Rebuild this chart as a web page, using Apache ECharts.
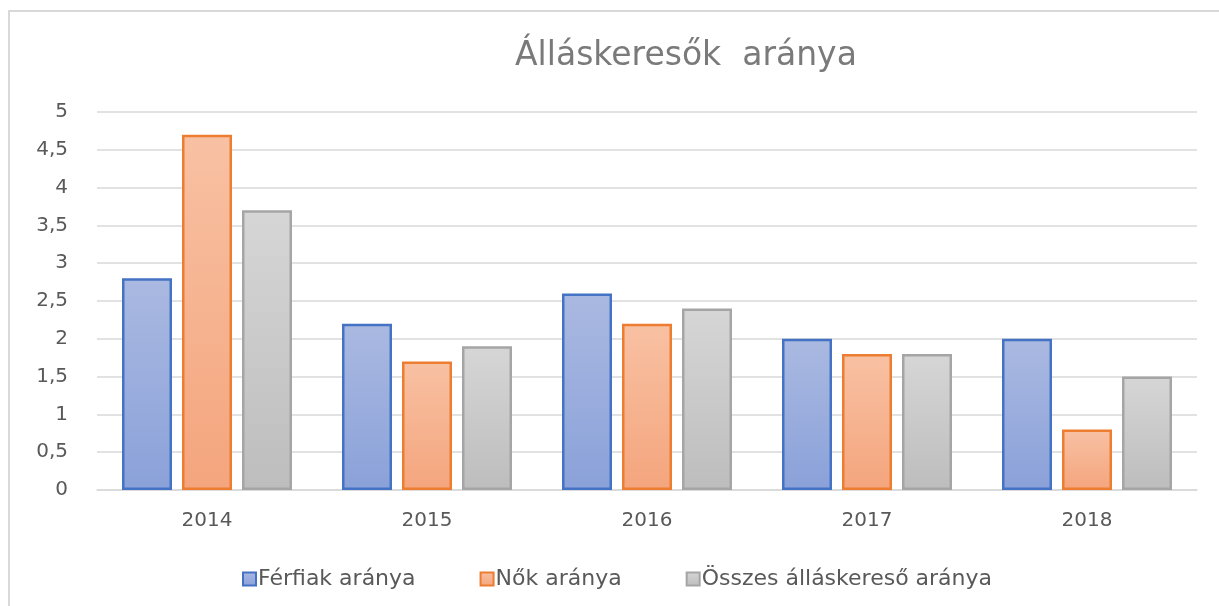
<!DOCTYPE html>
<html>
<head>
<meta charset="utf-8">
<script src="https://cdn.jsdelivr.net/npm/echarts@6/dist/echarts.min.js"></script>
<style>
  html, body { margin: 0; padding: 0; background: #fff; }
  #frame { position: absolute; left: 8px; top: 10px; width: 1220px; height: 606px; border: 2px solid #d9d9d9; box-sizing: border-box; }
  #main { position: absolute; left: 0; top: 0; width: 1219px; height: 606px; }
</style>
</head>
<body>
<div id="frame"></div>
<div id="main"></div>
<script>
var years = ['2014', '2015', '2016', '2017', '2018'];
var ferfiak = [2.8, 2.2, 2.6, 2.0, 2.0];
var nok = [4.7, 1.7, 2.2, 1.8, 0.8];
var osszes = [3.7, 1.9, 2.4, 1.8, 1.5];
var seriesNames = ['Férfiak aránya', 'Nők aránya', 'Összes álláskereső aránya'];

var myChart = echarts.init(document.getElementById('main'));

function grad(top, bottom) {
    return new echarts.graphic.LinearGradient(0, 0, 0, 1, [
        { offset: 0, color: top },
        { offset: 1, color: bottom }
    ]);
}

function bar(name, data, top, bottom, border) {
    return {
        name: name,
        type: 'bar',
        data: data,
        barWidth: 50,
        barGap: '20%',
        itemStyle: {
            color: grad(top, bottom),
            borderColor: border,
            borderWidth: 2.5
        }
    };
}

var option = {
    animation: false,
    textStyle: { fontFamily: 'DejaVu Sans' },
    title: {
        text: 'Álláskeresők  aránya',
        left: 510,
        top: 35,
        textStyle: { fontSize: 33, fontWeight: 'normal', color: '#7a7a7a', fontFamily: 'DejaVu Sans' }
    },
    legend: {
        data: seriesNames,
        icon: 'rect',
        left: 237,
        top: 563,
        itemWidth: 13,
        itemHeight: 13,
        itemGap: 64,
        textStyle: { fontSize: 22, color: '#595959', padding: [0, 0, 0, -3] }
    },
    grid: { left: 97, right: 22, top: 112, bottom: 116 },
    xAxis: {
        type: 'category',
        data: years,
        axisTick: { show: false },
        axisLine: { lineStyle: { color: '#d9d9d9', width: 1.5 } },
        axisLabel: { fontSize: 20, color: '#595959', margin: 21 }
    },
    yAxis: {
        type: 'value',
        min: 0,
        max: 5,
        interval: 0.5,
        axisLabel: {
            fontSize: 20,
            color: '#595959',
            margin: 29,
            formatter: function (v) { return String(v).replace('.', ','); }
        },
        splitLine: { lineStyle: { color: '#d9d9d9', width: 1.5 } }
    },
    series: [
        bar(seriesNames[0], ferfiak, '#aab9e1', '#8aa1d9', '#4472c4'),
        bar(seriesNames[1], nok, '#f8c1a3', '#f4a57d', '#ed7d31'),
        bar(seriesNames[2], osszes, '#d6d6d6', '#bdbdbd', '#a5a5a5')
    ]
};
myChart.setOption(option);
</script>
</body>
</html>
